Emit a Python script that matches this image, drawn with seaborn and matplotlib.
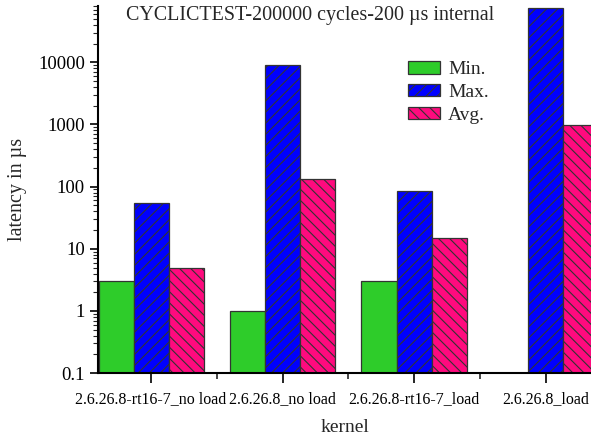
import numpy as np
import pandas as pd
import seaborn as sns
import matplotlib
matplotlib.use("Agg")
import matplotlib.pyplot as plt
from matplotlib.ticker import FixedLocator, LogLocator, NullFormatter

kernels = ["2.6.26.8-rt16-7_no load", "2.6.26.8_no load", "2.6.26.8-rt16-7_load", "2.6.26.8_load"]
series = ["Min.", "Max.", "Avg."]
min_vals = [3, 1, 3, np.nan]
max_vals = [55, 9000, 85, 75000]
avg_vals = [5, 135, 15, 980]
colors = ["#2ecc2a", "#0000ff", "#ff0a7e"]
hatches = ["", "///", "\\\\\\"]

df = pd.DataFrame({
    "kernel": kernels * 3,
    "series": [s for s in series for _ in kernels],
    "latency": min_vals + max_vals + avg_vals,
})

sns.set_style("ticks")
plt.rcParams["font.family"] = ["Liberation Serif", "DejaVu Serif"]
plt.rcParams["hatch.linewidth"] = 0.8
plt.rcParams["hatch.color"] = "black"

fig = plt.figure(figsize=(5.91, 4.40), dpi=100)
ax = fig.add_axes([0.166, 0.152, 0.834, 0.834])

sns.barplot(data=df, x="kernel", y="latency", hue="series", order=kernels,
            hue_order=series, palette=colors, saturation=1, width=0.8,
            edgecolor="#333333", linewidth=0.9, legend=False, ax=ax)

for cont, h in zip(ax.containers, hatches):
    for p in cont.patches:
        p.set_hatch(h)

ax.set_yscale("log")
ax.set_ylim(0.1, 8e4)
ax.set_xlim(-0.403, 3.346)

yt = [0.1, 1, 10, 100, 1000, 10000]
ax.yaxis.set_major_locator(FixedLocator(yt))
ax.set_yticklabels(["0.1", "1", "10", "100", "1000", "10000"])
ax.yaxis.set_minor_locator(LogLocator(base=10, subs=np.arange(2, 10)))
ax.yaxis.set_minor_formatter(NullFormatter())
ax.set_xticks(range(len(kernels)))
ax.set_xticklabels(kernels)
ax.set_xticks([0.5, 1.5, 2.5], minor=True)

ax.tick_params(axis="y", which="major", labelsize=13.5, length=6, width=1.2, direction="out", colors="black")
ax.tick_params(axis="x", which="major", labelsize=11.5, length=7, width=1.2, direction="out", colors="black", pad=6)
ax.tick_params(axis="y", which="minor", length=3.5, width=0.8, direction="out")
ax.tick_params(axis="x", which="minor", length=4, width=1.2, direction="out")

for s in ["top", "right"]:
    ax.spines[s].set_visible(False)
for s in ["left", "bottom"]:
    ax.spines[s].set_linewidth(1.5)
    ax.spines[s].set_color("black")

ax.set_xlabel("kernel", fontsize=14)
ax.set_ylabel("latency in µs", fontsize=14.5)
ax.xaxis.set_label_coords(0.5, -0.125)
ax.yaxis.set_label_coords(-0.145, 0.5)
ax.text(0.43, 1.0, "CYCLICTEST-200000 cycles-200 µs internal", transform=ax.transAxes,
        ha="center", va="top", fontsize=14.4)

ax.legend(ax.containers, series, loc="upper left", bbox_to_anchor=(0.613, 0.872),
          frameon=False, fontsize=14, handlelength=1.65, handleheight=0.62,
          labelspacing=0.3, handletextpad=0.42, borderaxespad=0)

fig.savefig("out.png", dpi=100)
